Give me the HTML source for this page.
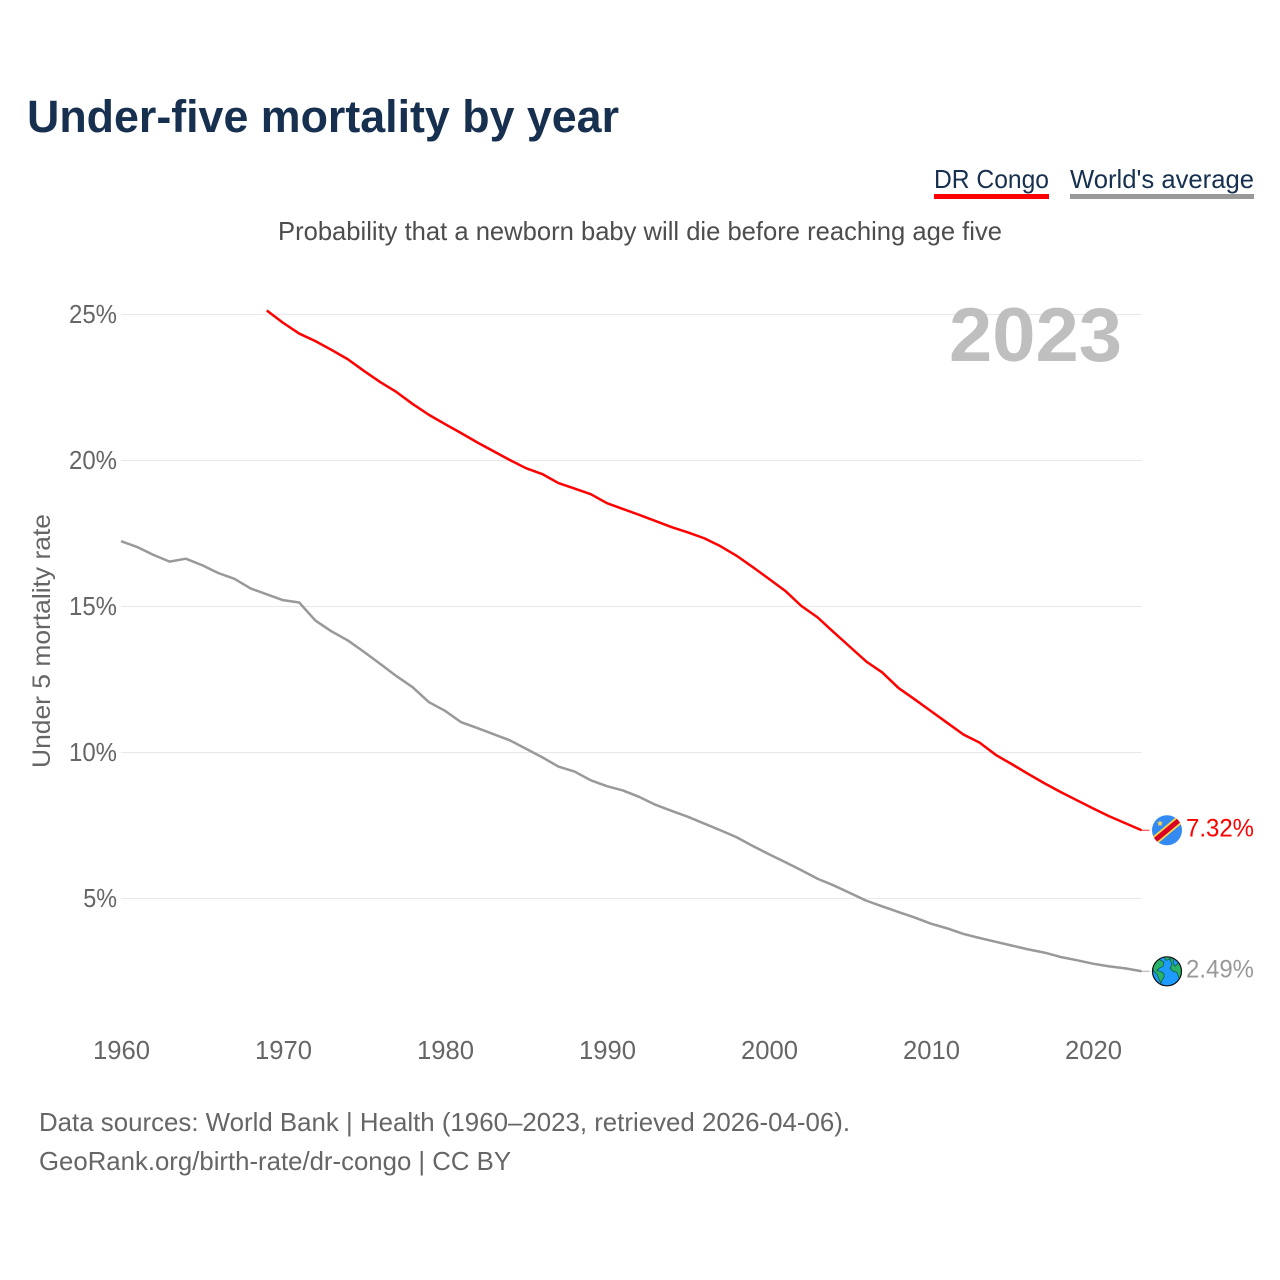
<!DOCTYPE html>
<html lang="en">
<head>
<meta charset="utf-8">
<title>Under-five mortality by year</title>
<style>
html,body{margin:0;padding:0;background:#fff;width:1280px;height:1280px;overflow:hidden}
svg{display:block;font-family:"Liberation Sans",sans-serif}
</style>
</head>
<body>
<svg id="chart" xmlns="http://www.w3.org/2000/svg" width="1280" height="1280" viewBox="0 0 1280 1280">
  <rect width="1280" height="1280" fill="#fff"/>
  <text x="27" y="132" font-size="45" font-weight="bold" fill="#17304f" textLength="592" lengthAdjust="spacingAndGlyphs">Under-five mortality by year</text>

  <g>
    <text x="934" y="188" font-size="26" fill="#17304f" textLength="115" lengthAdjust="spacingAndGlyphs">DR Congo</text>
    <rect x="934" y="194" width="115" height="5" fill="#ff0000"/>
  </g>
  <g>
    <text x="1070" y="188" font-size="26" fill="#17304f" textLength="184" lengthAdjust="spacingAndGlyphs">World's average</text>
    <rect x="1070" y="194" width="184" height="5" fill="#999999"/>
  </g>

  <text x="278" y="240" font-size="26" fill="#4d4d4d" textLength="724" lengthAdjust="spacingAndGlyphs">Probability that a newborn baby will die before reaching age five</text>

  <g id="grid"></g>
  <g id="yticks"></g>
  <g id="xticks"></g>

  <text x="949" y="361" font-size="76" font-weight="bold" fill="#bfbfbf" textLength="173" lengthAdjust="spacingAndGlyphs">2023</text>

  <text transform="translate(50,768) rotate(-90)" font-size="25" fill="#666666" textLength="254" lengthAdjust="spacingAndGlyphs">Under 5 mortality rate</text>

  <g id="series"></g>

  <g id="congo-flag">
    <defs><clipPath id="flag-clip"><circle cx="0" cy="0" r="15"/></clipPath></defs>
    <circle cx="0" cy="0" r="15" fill="#338af3"/>
    <g clip-path="url(#flag-clip)">
      <line x1="-18" y1="15" x2="18" y2="-15" stroke="#ffda44" stroke-width="8.5"/>
      <line x1="-18" y1="15" x2="18" y2="-15" stroke="#d80027" stroke-width="5"/>
    </g>
    <polygon points="-7,-10 -6.1,-7.9 -3.9,-7.9 -5.6,-6.4 -5,-4.2 -7,-5.4 -9,-4.2 -8.4,-6.4 -10.1,-7.9 -7.9,-7.9" fill="#ffda44"/>
  </g>

  <g id="globe">
    <defs><clipPath id="globe-clip"><circle cx="0" cy="0" r="14.5"/></clipPath></defs>
    <circle cx="0" cy="0" r="14.5" fill="#1e9bff"/>
    <g clip-path="url(#globe-clip)" fill="#27b36a" stroke="#14532d" stroke-width="0.7">
      <path d="M-15,-9 L-8,-12 L-3,-9 L-4,-5 L-8,-3 L-10,-1 L-7,0 L-3,2 L-3,6 L-5,9 L-6,12 L-8,8 L-10,3 L-13,0 L-15,-3 Z"/>
      <path d="M-4,-16 L4,-16 L2,-12 L-1,-11 Z"/>
      <path d="M3,-12 L7,-13 L6,-8 L8,-5 L11,-8 L15,-10 L16,3 L12,7 L10,1 L6,0 L3,-3 L5,-7 Z"/>
    </g>
    <circle cx="0" cy="0" r="14.5" fill="none" stroke="#111" stroke-width="1.2"/>
  </g>

  <g id="endlabels"></g>

  <text x="39" y="1131" font-size="26" fill="#666666" textLength="811" lengthAdjust="spacingAndGlyphs">Data sources: World Bank | Health (1960–2023, retrieved 2026-04-06).</text>
  <text x="39" y="1170" font-size="26" fill="#666666" textLength="472" lengthAdjust="spacingAndGlyphs">GeoRank.org/birth-rate/dr-congo | CC BY</text>
</svg>
<script>
const years = [1960,1961,1962,1963,1964,1965,1966,1967,1968,1969,1970,1971,1972,1973,1974,1975,1976,1977,1978,1979,1980,1981,1982,1983,1984,1985,1986,1987,1988,1989,1990,1991,1992,1993,1994,1995,1996,1997,1998,1999,2000,2001,2002,2003,2004,2005,2006,2007,2008,2009,2010,2011,2012,2013,2014,2015,2016,2017,2018,2019,2020,2021,2022,2023];
const congoValues = [null,null,null,null,null,null,null,null,null,25.12,24.70,24.33,24.07,23.77,23.45,23.05,22.67,22.33,21.92,21.55,21.23,20.92,20.60,20.30,20.00,19.72,19.52,19.21,19.02,18.83,18.52,18.32,18.12,17.91,17.70,17.52,17.32,17.05,16.72,16.33,15.93,15.52,15.00,14.61,14.10,13.60,13.10,12.72,12.19,11.80,11.40,11.00,10.60,10.32,9.90,9.58,9.25,8.93,8.63,8.35,8.07,7.80,7.56,7.32];
const worldValues = [17.22,17.02,16.75,16.52,16.62,16.40,16.13,15.93,15.60,15.40,15.20,15.12,14.50,14.13,13.82,13.43,13.02,12.60,12.22,11.71,11.41,11.02,10.82,10.61,10.40,10.11,9.82,9.50,9.33,9.03,8.83,8.68,8.46,8.19,7.98,7.78,7.55,7.32,7.08,6.78,6.50,6.23,5.95,5.66,5.43,5.17,4.91,4.71,4.52,4.33,4.12,3.96,3.77,3.63,3.50,3.37,3.24,3.13,2.98,2.87,2.75,2.66,2.59,2.49];
const xTickYears = [1960,1970,1980,1990,2000,2010,2020];
const yTickValues = [5,10,15,20,25];

const NS = 'http://www.w3.org/2000/svg';
function xScale(year){ return 121 + (year - 1960) * 16.2; }
function yScale(v){ return 314 + (25 - v) * 29.2; }
function labelWidth(s){
  let w = 0;
  for (const c of s) { w += c === '%' ? 19.5 : c === '.' ? 6.5 : 14.25; }
  return w;
}
function make(tag, parent, attrs){
  const el = document.createElementNS(NS, tag);
  for (const k in attrs) el.setAttribute(k, attrs[k]);
  parent.appendChild(el);
  return el;
}

const gridG = document.getElementById('grid');
const yG = document.getElementById('yticks');
const xG = document.getElementById('xticks');
const seriesG = document.getElementById('series');
const endG = document.getElementById('endlabels');

yTickValues.forEach(function(v){
  const line = make('line', gridG, {x1:xScale(1960), x2:xScale(2023), y1:yScale(v)+0.5, y2:yScale(v)+0.5, stroke:'#e8e8e8', 'stroke-width':1});
  
  
  const s = v + '%';
  const t = make('text', yG, {x:117, y:yScale(v)+9, 'text-anchor':'end', 'font-size':26, fill:'#666666', textLength:labelWidth(s), lengthAdjust:'spacingAndGlyphs'});
  t.textContent = s;
  
  
});

xTickYears.forEach(function(y){
  const s = String(y);
  const t = make('text', xG, {x:xScale(y)+0.5, y:1059, 'text-anchor':'middle', 'font-size':26, fill:'#666666', textLength:labelWidth(s), lengthAdjust:'spacingAndGlyphs'});
  t.textContent = s;
  
  
});

function pathFor(values){
  let d = '';
  values.forEach(function(v, i){
    if (v === null) return;
    d += (d ? 'L' : 'M') + xScale(years[i]).toFixed(2) + ',' + yScale(v).toFixed(2);
  });
  return d;
}
const worldLine = make('path', seriesG, {d:pathFor(worldValues), fill:'none', stroke:'#999999', 'stroke-width':2.5, 'stroke-linejoin':'round'});


const congoLine = make('path', seriesG, {d:pathFor(congoValues), fill:'none', stroke:'#ff0000', 'stroke-width':2.5, 'stroke-linejoin':'round'});



const lastCongo = congoValues[congoValues.length - 1];
const lastWorld = worldValues[worldValues.length - 1];
const lastX = xScale(years[years.length - 1]);

const congoStub = make('line', seriesG, {x1:lastX, x2:lastX+8, y1:yScale(lastCongo), y2:yScale(lastCongo), stroke:'#ff0000', 'stroke-width':1, opacity:0.8});


const worldStub = make('line', seriesG, {x1:lastX, x2:lastX+8, y1:yScale(lastWorld), y2:yScale(lastWorld), stroke:'#999999', 'stroke-width':1, opacity:0.8});



document.getElementById('congo-flag').setAttribute('transform', 'translate(' + (lastX + 25.4) + ',' + yScale(lastCongo) + ')');
document.getElementById('globe').setAttribute('transform', 'translate(' + (lastX + 25.4) + ',' + yScale(lastWorld) + ')');

const congoLabelText = lastCongo.toFixed(2) + '%';
const congoLabel = make('text', endG, {x:1254, y:yScale(lastCongo)+6, 'text-anchor':'end', 'font-size':25, fill:'#ff0000', textLength:68, lengthAdjust:'spacingAndGlyphs'});
congoLabel.textContent = congoLabelText;



const worldLabelText = lastWorld.toFixed(2) + '%';
const worldLabel = make('text', endG, {x:1254, y:yScale(lastWorld)+6, 'text-anchor':'end', 'font-size':25, fill:'#999999', textLength:68, lengthAdjust:'spacingAndGlyphs'});
worldLabel.textContent = worldLabelText;


</script>
</body>
</html>
